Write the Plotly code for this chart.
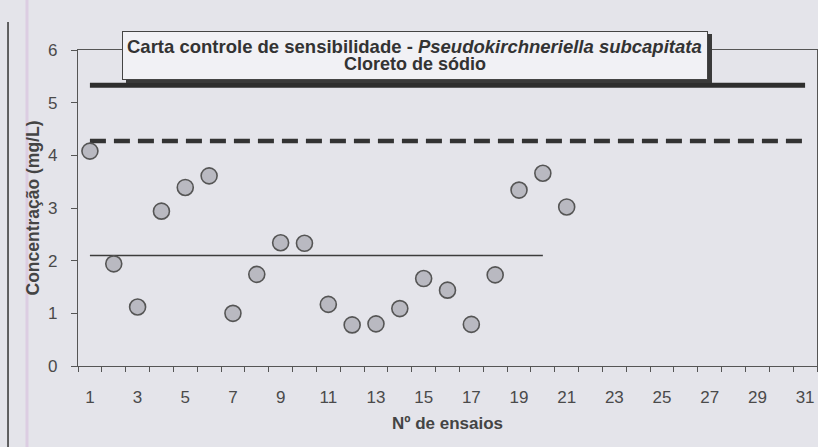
import plotly.graph_objects as go

# ---- data ----
ensaios = list(range(1, 22))
concentracao = [4.08, 1.94, 1.12, 2.94, 3.39, 3.61, 1.00, 1.74, 2.34, 2.33,
                1.17, 0.78, 0.80, 1.09, 1.66, 1.44, 0.79, 1.73, 3.34, 3.66, 3.02]

media_x = [1, 20]
media_y = [2.10, 2.10]
limite_sup_x = [1, 31]
limite_sup_y = [5.33, 5.33]
limite_alerta_x = [1, 31]
limite_alerta_y = [4.27, 4.27]

x_ticks = list(range(1, 32, 2))
x_ticktext = [str(v) for v in x_ticks]
y_ticks = [0, 1, 2, 3, 4, 5, 6]

titulo_1 = "<b>Carta controle de sensibilidade - <i>Pseudokirchneriella subcapitata</i></b>"
titulo_2 = "<b>Cloreto de sódio</b>"

BG = "#e4e4ea"
FONT = "Liberation Sans, Arial, sans-serif"

fig = go.Figure()

fig.add_trace(go.Scatter(x=limite_sup_x, y=limite_sup_y, mode="lines",
                         line=dict(color="#2e2e2e", width=5), hoverinfo="skip"))
fig.add_trace(go.Scatter(x=limite_alerta_x, y=limite_alerta_y, mode="lines",
                         line=dict(color="#333333", width=4.5, dash="16px,8px"), hoverinfo="skip"))
fig.add_trace(go.Scatter(x=media_x, y=media_y, mode="lines",
                         line=dict(color="#3c3c3c", width=1.5), hoverinfo="skip"))
fig.add_trace(go.Scatter(x=ensaios, y=concentracao, mode="markers",
                         marker=dict(size=16, color="#b9b9c1",
                                     line=dict(color="#555555", width=1.6))))

# title box shadow + title box
box_kw = dict(xref="paper", yref="paper", x=0.456, y=0.9826, xanchor="center", yanchor="middle",
              text="", showarrow=False, width=580, height=43, borderpad=2, borderwidth=1)
fig.add_annotation(**box_kw, bgcolor="#3a3a3a", bordercolor="#3a3a3a", xshift=4, yshift=-3)
fig.add_annotation(**box_kw, bgcolor="#f1f1f5", bordercolor="#444444")
fig.add_annotation(xref="paper", yref="paper", x=0.456, y=1.0095, xanchor="center", yanchor="middle",
                   text=titulo_1, showarrow=False,
                   font=dict(family=FONT, size=18.5, color="#333333"))
fig.add_annotation(xref="paper", yref="paper", x=0.456, y=0.9557, xanchor="center", yanchor="middle",
                   text=titulo_2, showarrow=False,
                   font=dict(family=FONT, size=18, color="#333333"))

# page decorations at the left
fig.add_shape(type="line", xref="paper", yref="paper", x0=-0.0947, x1=-0.0947,
              y0=1.089, y1=-0.26, line=dict(color="#333333", width=1.5))
fig.add_shape(type="line", xref="paper", yref="paper", x0=-0.069, x1=-0.069,
              y0=1.2, y1=-0.26, line=dict(color="#dccde2", width=3))

fig.update_layout(
    width=818, height=447,
    margin=dict(l=78, r=1, t=50, b=81),
    paper_bgcolor=BG, plot_bgcolor=BG,
    showlegend=False,
    font=dict(family=FONT, color="#444444"),
)

fig.update_xaxes(
    range=[0.5, 31.5], tickmode="array", tickvals=x_ticks, ticktext=x_ticktext,
    ticks="", showgrid=False, zeroline=False,
    showline=True, linecolor="#555555", linewidth=1.3, mirror=True,
    tickfont=dict(size=17, color="#4a4a4a"), ticklabelstandoff=15,
    minor=dict(tick0=0.5, dtick=1, ticks="outside", ticklen=5,
               tickcolor="#555555", tickwidth=1.3, showgrid=False),
    title=dict(text="<b>Nº de ensaios</b>", font=dict(size=17, color="#444444"), standoff=11),
)
fig.update_yaxes(
    range=[0, 6], tickmode="array", tickvals=y_ticks,
    ticks="outside", ticklen=6, tickcolor="#555555", tickwidth=1.3,
    showgrid=False, zeroline=False,
    showline=True, linecolor="#555555", linewidth=1.3, mirror=True,
    tickfont=dict(size=17, color="#4a4a4a"), ticklabelstandoff=10,
    title=dict(text="<b>Concentração (mg/L)</b>", font=dict(size=17.5, color="#444444"), standoff=3),
)

fig.write_html("out.html", config={"displayModeBar": False},
               post_script="document.body.style.margin='0';")
